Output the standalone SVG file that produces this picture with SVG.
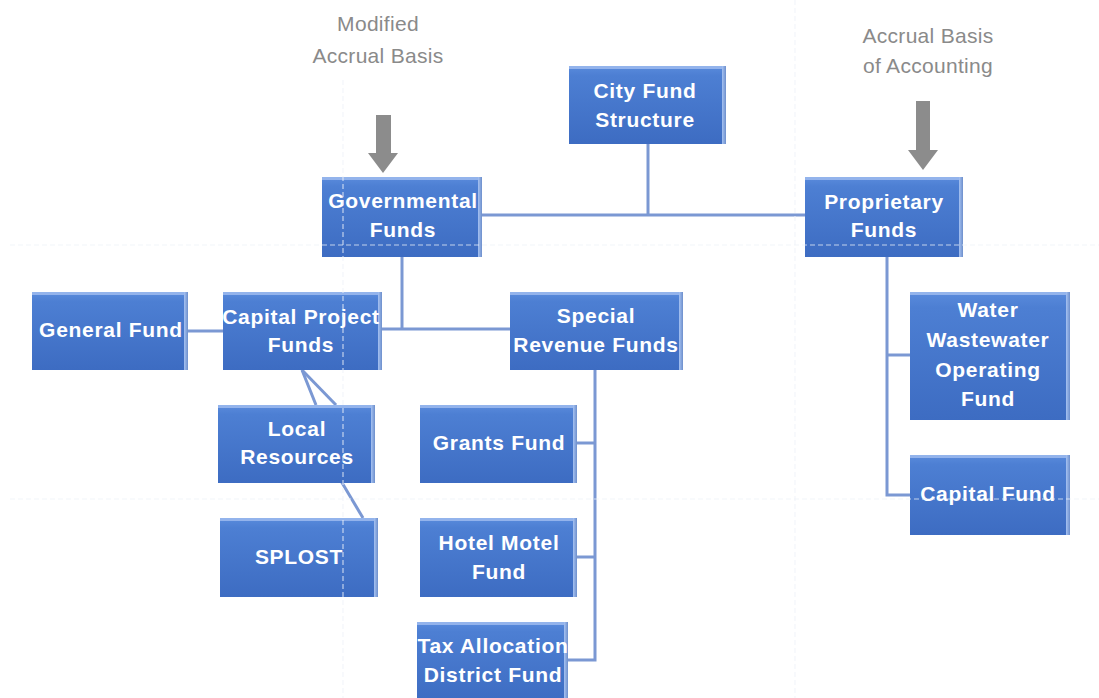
<svg xmlns="http://www.w3.org/2000/svg" width="1099" height="698" viewBox="0 0 1099 698">
  <defs>
    <linearGradient id="boxFill" x1="0" y1="0" x2="0" y2="1">
      <stop offset="0" stop-color="#5a8bdc"/>
      <stop offset="0.12" stop-color="#4d7fd3"/>
      <stop offset="1" stop-color="#3d6cc2"/>
    </linearGradient>
    <linearGradient id="bevelR" x1="0" y1="0" x2="1" y2="0">
      <stop offset="0" stop-color="#a6c2f2"/>
      <stop offset="1" stop-color="#6d8fcc"/>
    </linearGradient>
    <style>
      .box { fill: url(#boxFill); }
      .hl { fill: #9dbbee; opacity: 0.85; }
      .bev { fill: url(#bevelR); }
      .lbl { font-family: "Liberation Sans", Arial, sans-serif; font-weight: bold; font-size: 21px; letter-spacing: 0.7px; fill: #ffffff; text-anchor: middle; }
      .note { font-family: "Liberation Sans", Arial, sans-serif; font-size: 21px; letter-spacing: 0.3px; fill: #8a8a8a; text-anchor: middle; }
      .conn { stroke: #7b98d3; stroke-width: 3; fill: none; }
      .guide { stroke: #eef2f8; stroke-width: 1.2; stroke-dasharray: 5 3; fill: none; opacity: 0.75; }
      .arrow { fill: #8c8c8c; }
    </style>
  </defs>

  <rect width="1099" height="698" fill="#ffffff"/>

  <!-- captions and basis arrows -->
  <g id="caption-modified">
    <text class="note" x="378" y="31">Modified</text>
    <text class="note" x="378" y="63">Accrual Basis</text>
    <polygon class="arrow" points="376,115 391,115 391,153 398,153 383,173 368,153 376,153"/>
  </g>
  <g id="caption-accrual">
    <text class="note" x="928" y="43">Accrual Basis</text>
    <text class="note" x="928" y="73">of Accounting</text>
    <polygon class="arrow" points="916,101 930,101 930,150 938,150 923,170 908,150 916,150"/>
  </g>

  <!-- connectors -->
  <g id="connectors">
    <polyline class="conn" points="648,144 648,215"/>
    <polyline class="conn" points="482,215 805,215"/>
    <polyline class="conn" points="402,257 402,329"/>
    <polyline class="conn" points="382,329 510,329"/>
    <polyline class="conn" points="188,331 223,331"/>
    <polyline class="conn" points="302,370 316,405"/>
    <polyline class="conn" points="302,370 336,405"/>
    <polyline class="conn" points="341,481 363,518"/>
    <polyline class="conn" points="595,370 595,660 568,660"/>
    <polyline class="conn" points="577,443 595,443"/>
    <polyline class="conn" points="577,557 595,557"/>
    <polyline class="conn" points="887,257 887,495 910,495"/>
    <polyline class="conn" points="887,355 910,355"/>
  </g>

  <!-- nodes -->
  <g id="city-fund-structure">
    <rect class="box" x="569" y="66" width="157" height="78"/>
    <rect class="hl" x="569" y="66" width="157" height="3"/>
    <rect class="bev" x="722" y="66" width="4" height="78"/>
    <text class="lbl" x="645" y="98">City Fund</text>
    <text class="lbl" x="645" y="127">Structure</text>
  </g>

  <g id="governmental-funds">
    <rect class="box" x="322" y="177" width="160" height="80"/>
    <rect class="hl" x="322" y="177" width="160" height="3"/>
    <rect class="bev" x="478" y="177" width="4" height="80"/>
    <text class="lbl" x="403" y="208">Governmental</text>
    <text class="lbl" x="403" y="237">Funds</text>
  </g>

  <g id="proprietary-funds">
    <rect class="box" x="805" y="177" width="158" height="80"/>
    <rect class="hl" x="805" y="177" width="158" height="3"/>
    <rect class="bev" x="959" y="177" width="4" height="80"/>
    <text class="lbl" x="884" y="209">Proprietary</text>
    <text class="lbl" x="884" y="237">Funds</text>
  </g>

  <g id="general-fund">
    <rect class="box" x="32" y="292" width="156" height="78"/>
    <rect class="hl" x="32" y="292" width="156" height="3"/>
    <rect class="bev" x="184" y="292" width="4" height="78"/>
    <text class="lbl" x="111" y="337">General Fund</text>
  </g>

  <g id="capital-project-funds">
    <rect class="box" x="223" y="292" width="159" height="78"/>
    <rect class="hl" x="223" y="292" width="159" height="3"/>
    <rect class="bev" x="378" y="292" width="4" height="78"/>
    <text class="lbl" x="301" y="324">Capital Project</text>
    <text class="lbl" x="301" y="352">Funds</text>
  </g>

  <g id="local-resources">
    <rect class="box" x="218" y="405" width="157" height="78"/>
    <rect class="hl" x="218" y="405" width="157" height="3"/>
    <rect class="bev" x="371" y="405" width="4" height="78"/>
    <text class="lbl" x="297" y="436">Local</text>
    <text class="lbl" x="297" y="464">Resources</text>
  </g>

  <g id="splost">
    <rect class="box" x="220" y="518" width="158" height="79"/>
    <rect class="hl" x="220" y="518" width="158" height="3"/>
    <rect class="bev" x="374" y="518" width="4" height="79"/>
    <text class="lbl" x="299" y="564">SPLOST</text>
  </g>

  <g id="special-revenue-funds">
    <rect class="box" x="510" y="292" width="173" height="78"/>
    <rect class="hl" x="510" y="292" width="173" height="3"/>
    <rect class="bev" x="679" y="292" width="4" height="78"/>
    <text class="lbl" x="596" y="323">Special</text>
    <text class="lbl" x="596" y="352">Revenue Funds</text>
  </g>

  <g id="grants-fund">
    <rect class="box" x="420" y="405" width="157" height="78"/>
    <rect class="hl" x="420" y="405" width="157" height="3"/>
    <rect class="bev" x="573" y="405" width="4" height="78"/>
    <text class="lbl" x="499" y="450">Grants Fund</text>
  </g>

  <g id="hotel-motel-fund">
    <rect class="box" x="420" y="518" width="157" height="79"/>
    <rect class="hl" x="420" y="518" width="157" height="3"/>
    <rect class="bev" x="573" y="518" width="4" height="79"/>
    <text class="lbl" x="499" y="550">Hotel Motel</text>
    <text class="lbl" x="499" y="579">Fund</text>
  </g>

  <g id="tax-allocation-district-fund">
    <rect class="box" x="417" y="622" width="151" height="80"/>
    <rect class="hl" x="417" y="622" width="151" height="3"/>
    <rect class="bev" x="564" y="622" width="4" height="80"/>
    <text class="lbl" x="493" y="653">Tax Allocation</text>
    <text class="lbl" x="493" y="682">District Fund</text>
  </g>

  <g id="water-wastewater-operating-fund">
    <rect class="box" x="910" y="292" width="160" height="128"/>
    <rect class="hl" x="910" y="292" width="160" height="3"/>
    <rect class="bev" x="1066" y="292" width="4" height="128"/>
    <text class="lbl" x="988" y="317">Water</text>
    <text class="lbl" x="988" y="347">Wastewater</text>
    <text class="lbl" x="988" y="377">Operating</text>
    <text class="lbl" x="988" y="406">Fund</text>
  </g>

  <g id="capital-fund">
    <rect class="box" x="910" y="455" width="160" height="80"/>
    <rect class="hl" x="910" y="455" width="160" height="3"/>
    <rect class="bev" x="1066" y="455" width="4" height="80"/>
    <text class="lbl" x="988" y="501">Capital Fund</text>
  </g>

  <!-- faint layout guides -->
  <g id="guides">
    <line class="guide" x1="10" y1="245" x2="1099" y2="245"/>
    <line class="guide" x1="10" y1="499" x2="1099" y2="499"/>
    <line class="guide" x1="343" y1="80" x2="343" y2="698"/>
    <line class="guide" x1="795" y1="0" x2="795" y2="698"/>
  </g>
</svg>
